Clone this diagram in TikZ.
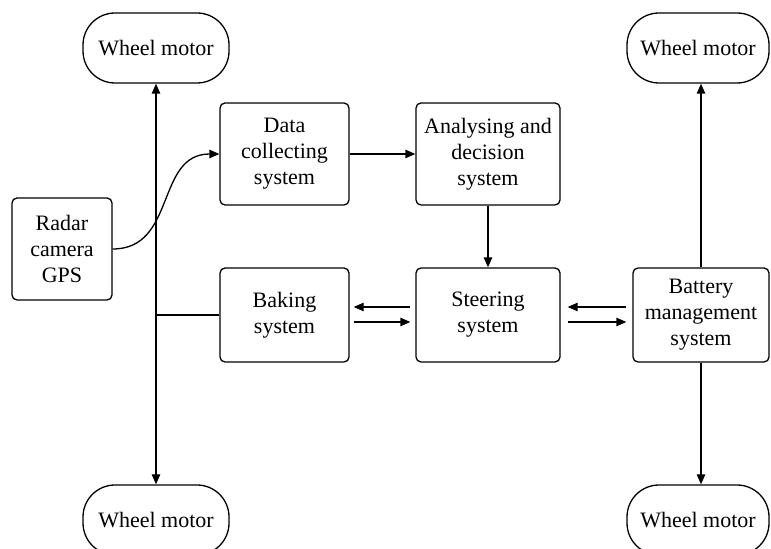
\documentclass[tikz,border=0pt]{standalone}
\usepackage{fontspec}
\setmainfont{Liberation Serif}
\usetikzlibrary{arrows.meta}
\begin{document}
\begin{tikzpicture}[x=0.5pt,y=-0.5pt,
  line width=0.65pt,
  font=\fontsize{11}{13}\selectfont,
  block/.style={draw, rounded corners=2.5pt, align=center, inner sep=0pt},
  motor/.style={draw, rounded corners=16pt, align=center, inner sep=0pt,
                minimum width=73pt, minimum height=35pt},
  arr/.style={-{Triangle[length=5pt,width=4.2pt]}},
  biarr/.style={{Triangle[length=5pt,width=4.2pt]}-{Triangle[length=5pt,width=4.2pt]}}]
  \useasboundingbox (0,0) rectangle (771,549);
  \clip (0,0) rectangle (771,549);

  % wheel motors
  \node[motor] (wmTL) at (156,48)  {Wheel motor};
  \node[motor, minimum width=71pt] (wmTR) at (698,48)  {Wheel motor};
  \node[motor] (wmBL) at (156,520) {Wheel motor};
  \node[motor, minimum width=71pt] (wmBR) at (698,520) {Wheel motor};

  % processing blocks
  \node[block, minimum width=50pt,   minimum height=51pt] (radar)   at (62,249)    {Radar\\camera\\GPS};
  \node[block, minimum width=64.5pt, minimum height=51pt] (data)    at (284.5,154) {Data\\collecting\\system};
  \node[block, minimum width=72pt,   minimum height=51pt] (analyse) at (488,154)   {Analysing and\\decision\\system};
  \node[block, minimum width=64.5pt, minimum height=47pt] (baking)  at (284.5,315) {Baking\\system};
  \node[block, minimum width=72pt,   minimum height=47pt] (steer)   at (488,315)   {Steering\\system};
  \node[block, minimum width=68pt,   minimum height=47pt] (battery) at (701,315)   {Battery\\management\\system};

  % left wheel bus
  \draw[biarr] (wmTL.south) -- (wmBL.north);
  \draw (baking.west) -- (baking.west -| wmTL.south);

  % sensing and decision chain
  \draw[arr] (radar.east) .. controls ([xshift=32pt]radar.east) and ([xshift=-32pt]data.west) .. (data.west);
  \draw[arr] (data.east) -- (analyse.west);
  \draw[arr] (analyse.south) -- (steer.north);

  % steering <-> baking
  \draw[arr] ([xshift=-2.5pt,yshift=4pt]steer.west) -- ([xshift=2pt,yshift=4pt]baking.east);
  \draw[arr] ([xshift=2pt,yshift=-3.5pt]baking.east) -- ([xshift=-2.5pt,yshift=-3.5pt]steer.west);

  % steering <-> battery
  \draw[arr] ([xshift=-3pt,yshift=4pt]battery.west) -- ([xshift=3.5pt,yshift=4pt]steer.east);
  \draw[arr] ([xshift=3.5pt,yshift=-3.5pt]steer.east) -- ([xshift=-3pt,yshift=-3.5pt]battery.west);

  % right wheel motors
  \draw[arr] (battery.north) -- (battery.north |- wmTR.south);
  \draw[arr] (battery.south) -- (battery.south |- wmBR.north);
\end{tikzpicture}
\end{document}
